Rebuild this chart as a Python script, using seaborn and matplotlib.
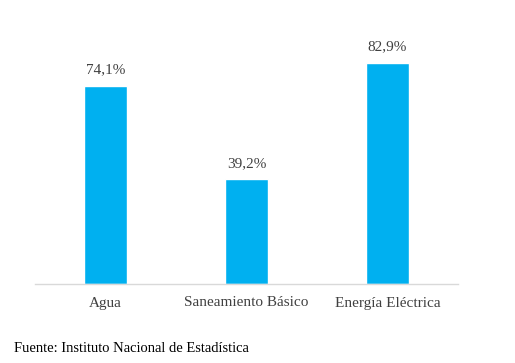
import matplotlib
matplotlib.use("Agg")
import matplotlib.pyplot as plt
import seaborn as sns
import pandas as pd

# Data
categorias = ["Agua", "Saneamiento Básico", "Energía Eléctrica"]
valores = [74.1, 39.2, 82.9]
etiquetas = ["74,1%", "39,2%", "82,9%"]

df = pd.DataFrame({"Categoria": categorias, "Valor": valores})

sns.set_style("white")
plt.rcParams["font.family"] = ["Liberation Serif", "DejaVu Serif"]

fig = plt.figure(figsize=(5.15, 3.63), dpi=100)
ax = fig.add_axes([35 / 515, (363 - 284) / 363, (458 - 35) / 515, 240 / 363])

sns.barplot(data=df, x="Categoria", y="Valor", color="#00B0F0",
            width=0.31, saturation=1, ax=ax)

ax.set_ylim(0, 90)
ax.set_xlim(-0.5, 2.5)

# Value labels
for i, v in enumerate(valores):
    ax.annotate(etiquetas[i], (i, v), xytext=(0, 7), textcoords="offset points",
                ha="center", va="bottom", fontsize=11, color="#404040")

ax.set_xlabel("")
ax.set_ylabel("")
ax.set_yticks([])
ax.tick_params(axis="x", length=0, labelsize=11, labelcolor="#404040", pad=9)

for s in ["top", "right", "left"]:
    ax.spines[s].set_visible(False)
ax.spines["bottom"].set_color("#D9D9D9")
ax.spines["bottom"].set_linewidth(1)

# Source
fig.text(14 / 515, 1 - 348 / 363, "Fuente: Instituto Nacional de Estadística",
         ha="left", va="center", fontsize=10.5, color="black")

fig.savefig("out.png", dpi=100)
